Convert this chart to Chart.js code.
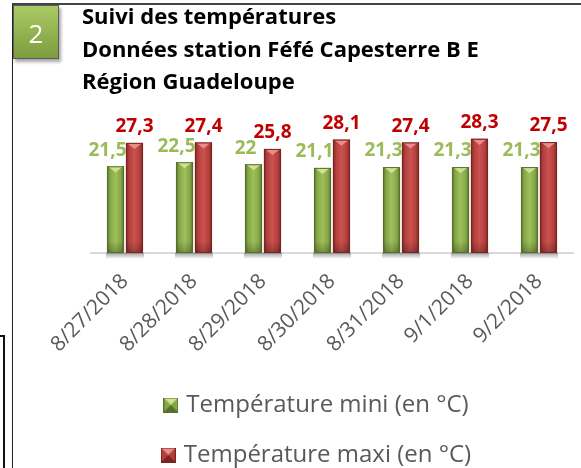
<!DOCTYPE html>
<html>
<head>
<meta charset="utf-8">
<script src="https://cdn.jsdelivr.net/npm/chart.js@4.4.0/dist/chart.umd.min.js"></script>
<style>
    html, body { margin: 0; padding: 0; background: #fff; }
    body { width: 581px; height: 468px; position: relative; overflow: hidden; font-family: "Open Sans", sans-serif; }
    #frame { position: absolute; left: 12px; top: 3px; width: 580px; height: 480px; border-top: 2px solid #444; border-left: 1px solid #222; }
    #stub { position: absolute; left: -3px; top: 335px; width: 4px; height: 150px; border: 2px solid #111; }
    #badge {
        position: absolute; left: 13px; top: 5px; width: 44px; height: 52px;
        background: linear-gradient(#a9cb66, #7d9c3d);
        border: 1px solid #5c5c5c; box-shadow: 2px 3px 3px rgba(0, 0, 0, 0.35);
        color: #fff; font-size: 26px; line-height: 54px; text-align: center;
    }
    #title { position: absolute; left: 82px; top: -1px; font-weight: 700; font-size: 22px; line-height: 32.5px; color: #000; white-space: nowrap; }
    #wrap { position: absolute; left: 13px; top: 5px; width: 568px; height: 472px; }
</style>
</head>
<body>
<div id="frame"></div>
<div id="stub"></div>
<div id="wrap"><canvas id="temp_chart"></canvas></div>
<div id="badge">2</div>
<div id="title"></div>

<script>
// chart data
var titleLines = ["Suivi des températures", "Données station Féfé Capesterre B E", "Région Guadeloupe"];
var dates = ["8/27/2018", "8/28/2018", "8/29/2018", "8/30/2018", "8/31/2018", "9/1/2018", "9/2/2018"];
var tempMini = [21.5, 22.5, 22, 21.1, 21.3, 21.3, 21.3];
var tempMaxi = [27.3, 27.4, 25.8, 28.1, 27.4, 28.3, 27.5];
var seriesNames = ["Température mini (en °C)", "Température maxi (en °C)"];
var yMin = 0;
var yMax = 30;

var palettes = [
    { edge: "#55702a", side: "#86a647", mid: "#9ec05b", top: "#cfe291", label: "#9BBB59" },
    { edge: "#7a2321", side: "#b2403d", mid: "#cb524f", top: "#e98d8b", label: "#C00000" },
];

document.getElementById("title").innerHTML = titleLines.join("<br>");

function makeMarker(pal) {
    var c = document.createElement("canvas");
    c.width = 15;
    c.height = 15;
    var g = c.getContext("2d");
    var s = 15, m = 7.5;
    g.fillStyle = pal.side;
    g.fillRect(0, 0, s, s);
    g.fillStyle = pal.top;
    g.beginPath(); g.moveTo(0, 0); g.lineTo(s, 0); g.lineTo(m, m); g.closePath(); g.fill();
    g.fillStyle = pal.edge;
    g.beginPath(); g.moveTo(0, s); g.lineTo(s, s); g.lineTo(m, m); g.closePath(); g.fill();
    g.strokeStyle = pal.edge;
    g.lineWidth = 1;
    g.strokeRect(0.5, 0.5, s - 1, s - 1);
    return c;
}
var markers = [makeMarker(palettes[0]), makeMarker(palettes[1])];

function fmt(v) {
    return String(v).replace(".", ",");
}

// bevel look on bars, drawn on the bar elements' own geometry
var bevelPlugin = {
    id: "bevel",
    afterDatasetsDraw: function (chart) {
        var ctx = chart.ctx;
        ctx.save();
        chart.data.datasets.forEach(function (ds, di) {
            var pal = palettes[di];
            chart.getDatasetMeta(di).data.forEach(function (bar) {
                var p = bar.getProps(["x", "y", "base", "width"], true);
                var l = p.x - p.width / 2, r = p.x + p.width / 2, t = p.y, b = p.base;
                // shadow under the bar
                var sh = ctx.createLinearGradient(0, b, 0, b + 6);
                sh.addColorStop(0, "rgba(0,0,0,0.35)");
                sh.addColorStop(1, "rgba(0,0,0,0)");
                ctx.fillStyle = sh;
                ctx.fillRect(l - 1, b, r - l + 2, 6);

                var g = ctx.createLinearGradient(l, 0, r, 0);
                g.addColorStop(0, pal.edge);
                g.addColorStop(0.18, pal.side);
                g.addColorStop(0.5, pal.mid);
                g.addColorStop(0.82, pal.side);
                g.addColorStop(1, pal.edge);
                ctx.fillStyle = g;
                ctx.fillRect(l, t, r - l, b - t);

                var v = ctx.createLinearGradient(0, b - 12, 0, b);
                v.addColorStop(0, "rgba(0,0,0,0)");
                v.addColorStop(1, "rgba(0,0,0,0.25)");
                ctx.fillStyle = v;
                ctx.fillRect(l, b - 12, r - l, 12);

                ctx.fillStyle = pal.top;
                ctx.beginPath();
                ctx.moveTo(l + 1, t);
                ctx.lineTo(r - 1, t);
                ctx.lineTo(p.x, t + (r - l) / 2.8);
                ctx.closePath();
                ctx.fill();

                ctx.strokeStyle = pal.edge;
                ctx.lineWidth = 1;
                ctx.strokeRect(l + 0.5, t + 0.5, r - l - 1, b - t - 1);
            });
        });
        ctx.restore();
    },
};

// value labels above the bars
var valueLabels = {
    id: "valueLabels",
    afterDatasetsDraw: function (chart) {
        var ctx = chart.ctx;
        ctx.save();
        ctx.font = "bold 19px 'Open Sans'";
        ctx.textAlign = "center";
        ctx.textBaseline = "middle";
        chart.data.datasets.forEach(function (ds, di) {
            var shift = di === 0 ? -8 : 0;
            ctx.fillStyle = palettes[di].label;
            chart.getDatasetMeta(di).data.forEach(function (bar, i) {
                var p = bar.getProps(["x", "y"], true);
                ctx.fillText(fmt(ds.data[i]), p.x + shift, p.y - 16);
            });
        });
        ctx.restore();
    },
};

var tempChart = new Chart("temp_chart", {
    type: "bar",
    data: {
        labels: dates,
        datasets: [
            {
                label: seriesNames[0],
                data: tempMini,
                backgroundColor: palettes[0].mid,
                categoryPercentage: 0.55,
                barPercentage: 0.9,
            },
            {
                label: seriesNames[1],
                data: tempMaxi,
                backgroundColor: palettes[1].mid,
                categoryPercentage: 0.55,
                barPercentage: 0.9,
            },
        ],
    },
    options: {
        responsive: true,
        maintainAspectRatio: false,
        animation: false,
        layout: {
            padding: { left: 49.5, right: 7.5, top: 127, bottom: 0 },
        },
        scales: {
            x: {
                grid: { display: false, drawTicks: false },
                border: { display: true, color: "#d9d9d9", width: 2 },
                ticks: {
                    color: "#595959",
                    font: { family: "Open Sans", size: 21 },
                    minRotation: 45,
                    maxRotation: 45,
                    autoSkip: false,
                    padding: 16,
                },
                afterFit: function (scale) {
                    scale.height = 114;
                },
            },
            y: {
                min: yMin,
                max: yMax,
                grid: { display: false, drawTicks: false },
                border: { display: false },
                ticks: { display: false },
                afterFit: function (scale) {
                    scale.width = 28;
                },
            },
        },
        plugins: {
            title: { display: false },
            tooltip: { enabled: false },
            legend: {
                position: "bottom",
                labels: {
                    usePointStyle: true,
                    boxWidth: 7,
                    padding: 26,
                    color: "#595959",
                    font: { family: "Open Sans", size: 24 },
                    generateLabels: function (chart) {
                        var items = Chart.defaults.plugins.legend.labels.generateLabels(chart);
                        items.forEach(function (it, i) {
                            it.pointStyle = markers[i];
                        });
                        return items;
                    },
                },
            },
        },
    },
    plugins: [bevelPlugin, valueLabels],
});
</script>
</body>
</html>
